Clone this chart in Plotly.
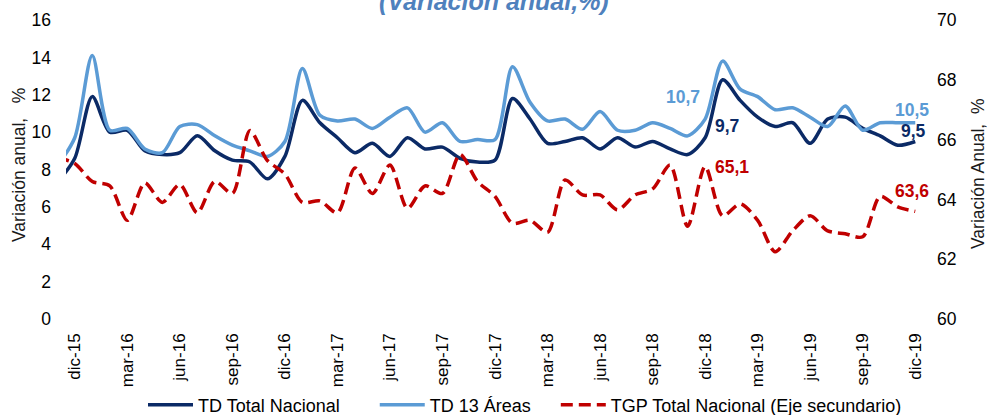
import plotly.graph_objects as go

months = ["nov-15", "dic-15",
          "ene-16", "feb-16", "mar-16", "abr-16", "may-16", "jun-16", "jul-16", "ago-16", "sep-16", "oct-16", "nov-16", "dic-16",
          "ene-17", "feb-17", "mar-17", "abr-17", "may-17", "jun-17", "jul-17", "ago-17", "sep-17", "oct-17", "nov-17", "dic-17",
          "ene-18", "feb-18", "mar-18", "abr-18", "may-18", "jun-18", "jul-18", "ago-18", "sep-18", "oct-18", "nov-18", "dic-18",
          "ene-19", "feb-19", "mar-19", "abr-19", "may-19", "jun-19", "jul-19", "ago-19", "sep-19", "oct-19", "nov-19", "dic-19"]

td_nacional = [7.3, 8.6,
               11.9, 10.0, 10.1, 9.0, 8.8, 8.9, 9.8, 9.0, 8.5, 8.4, 7.5, 8.7,
               11.7, 10.5, 9.7, 8.9, 9.4, 8.7, 9.7, 9.1, 9.2, 8.6, 8.4, 8.5,
               11.8, 10.7, 9.4, 9.5, 9.7, 9.1, 9.7, 9.2, 9.5, 9.1, 8.8, 9.7,
               12.8, 11.7, 10.8, 10.3, 10.5, 9.4, 10.7, 10.8, 10.2, 9.8, 9.3, 9.5]

td_13_areas = [8.2, 9.7,
               14.1, 10.1, 10.2, 9.1, 8.9, 10.3, 10.4, 9.8, 9.3, 9.0, 8.7, 9.5,
               13.4, 10.9, 10.6, 10.7, 10.2, 10.8, 11.3, 10.0, 10.5, 9.5, 9.6, 9.6,
               13.5, 11.6, 10.6, 10.7, 10.15, 11.1, 10.1, 10.1, 10.5, 10.2, 9.8, 10.7,
               13.8, 12.3, 11.9, 11.2, 11.3, 10.8, 10.3, 11.4, 10.1, 10.5, 10.5, 10.5]

tgp_nacional = [65.4, 65.2,
                64.6, 64.45, 63.3, 64.55, 63.9, 64.5, 63.55, 64.6, 64.2, 66.3, 65.3, 64.85,
                63.9, 63.95, 63.55, 65.05, 64.2, 65.15, 63.7, 64.45, 64.2, 65.5, 64.6, 64.1,
                63.2, 63.3, 62.9, 64.65, 64.15, 64.15, 63.65, 64.15, 64.35, 65.15, 63.1, 65.1,
                63.45, 63.85, 63.3, 62.25, 62.95, 63.45, 62.95, 62.85, 62.75, 64.1, 63.75, 63.6]

left_ticks = [0, 2, 4, 6, 8, 10, 12, 14, 16]
right_ticks = [60, 62, 64, 66, 68, 70]

series_names = ["TD Total Nacional", "TD 13 Áreas", "TGP Total Nacional (Eje secundario)"]

DARK = "#0B2A66"
LIGHT = "#5B9BD5"
RED = "#C00000"
FONT = "Liberation Sans, Arial, sans-serif"
PAD1 = "\u00a0" * 6
PAD2 = "\u00a0" * 4

x = list(range(len(months)))
tick_idx = list(range(1, len(months), 3))

fig = go.Figure()
fig.add_trace(go.Scatter(x=x, y=td_nacional, name=series_names[0] + PAD1, mode="lines",
                         line=dict(color=DARK, width=3.5, shape="spline", smoothing=0.8)))
fig.add_trace(go.Scatter(x=x, y=td_13_areas, name=series_names[1] + PAD2, mode="lines",
                         line=dict(color=LIGHT, width=3.5, shape="spline", smoothing=0.8)))
fig.add_trace(go.Scatter(x=x, y=tgp_nacional, name=series_names[2], mode="lines",
                         yaxis="y2",
                         line=dict(color=RED, width=3.5, shape="spline", smoothing=0.8, dash="12px,6px")))

def fmt(v):
    return f"{v:.1f}".replace(".", ",")

i18 = months.index("dic-18")
i19 = months.index("dic-19")
labels = [
    (i18, td_13_areas[i18], "y", LIGHT, -22, 22),
    (i18, td_nacional[i18], "y", DARK, 22, 12),
    (i18, tgp_nacional[i18], "y2", RED, 27, 0),
    (i19, td_13_areas[i19], "y", LIGHT, -3, 13),
    (i19, td_nacional[i19], "y", DARK, -2, 10),
    (i19, tgp_nacional[i19], "y2", RED, -3, 20),
]
annotations = []
for xi, v, yr, col, xs, ys in labels:
    annotations.append(dict(x=xi, y=v, xref="x", yref=yr, text=f"<b>{fmt(v)}</b>", showarrow=False,
                            xshift=xs, yshift=ys, font=dict(family=FONT, size=17.5, color=col)))

annotations.append(dict(x=(494 - 66) / 858, y=(319 - 1) / 299, xref="paper", yref="paper", showarrow=False,
                        text="<b><i>(Variación anual,%)</i></b>", xanchor="center", yanchor="middle",
                        font=dict(family=FONT, size=25, color="#4F81BD")))
annotations.append(dict(x=(19 - 66) / 858, y=(319 - 165) / 299, xref="paper", yref="paper", showarrow=False,
                        text="Variación anual,\u00a0\u00a0\u00a0%", textangle=-90, xanchor="center", yanchor="middle",
                        font=dict(family=FONT, size=17.5, color="#1a1a1a")))
annotations.append(dict(x=(978 - 66) / 858, y=(319 - 174) / 299, xref="paper", yref="paper", showarrow=False,
                        text="Variación Anual,\u00a0\u00a0%", textangle=-90, xanchor="center", yanchor="middle",
                        font=dict(family=FONT, size=17.5, color="#1a1a1a")))

fig.update_layout(
    width=987, height=415,
    margin=dict(l=66, r=63, t=20, b=96, autoexpand=False),
    paper_bgcolor="white", plot_bgcolor="white",
    font=dict(family=FONT, size=17, color="#000000"),
    showlegend=True,
    legend=dict(orientation="h", xref="container", yref="container", x=143 / 987, xanchor="left",
                y=1 - 405 / 415, yanchor="middle", itemwidth=45,
                font=dict(family=FONT, size=18, color="#000000"), bgcolor="rgba(0,0,0,0)"),
    xaxis=dict(range=[0.5, len(months) - 0.5], tickmode="array", tickvals=tick_idx,
               ticktext=[months[i] for i in tick_idx], tickangle=-90, showgrid=False, zeroline=False,
               showline=False, ticks="", ticklabelstandoff=10, tickfont=dict(size=17), automargin=False),
    yaxis=dict(range=[0, 16], tickmode="array", tickvals=left_ticks, showgrid=False, zeroline=False,
               showline=False, ticks="", ticklabelstandoff=14, tickfont=dict(size=17.5), automargin=False),
    yaxis2=dict(range=[60, 70], tickmode="array", tickvals=right_ticks, overlaying="y", side="right",
                showgrid=False, zeroline=False, showline=False, ticks="", ticklabelstandoff=12,
                tickfont=dict(size=17.5), automargin=False),
    annotations=annotations,
)

fig.write_html("out.html", config={"displayModeBar": False},
               post_script="document.body.style.margin='0';")
